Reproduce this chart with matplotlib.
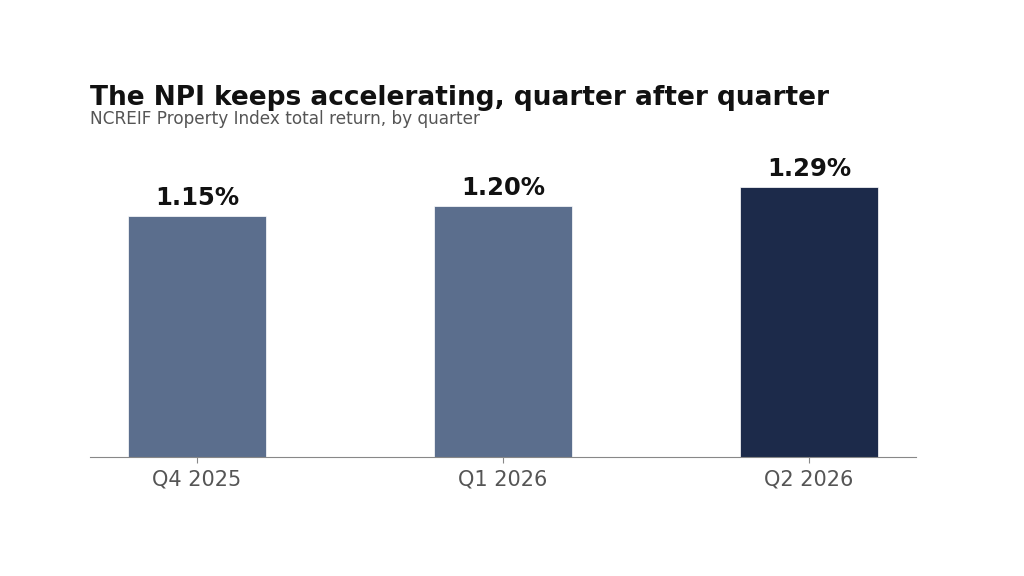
import matplotlib
matplotlib.use("Agg")
import matplotlib.pyplot as plt

plt.rcParams["font.family"] = ["DejaVu Sans"]

# data
quarters = ["Q4 2025", "Q1 2026", "Q2 2026"]
returns = [1.15, 1.20, 1.29]
bar_colors = ["#5b6e8d", "#5b6e8d", "#1c2a4a"]

fig = plt.figure(figsize=(10.24, 5.76), dpi=100)

# axes placed to match the reference pixel layout
ax_left, ax_bottom, ax_right = 90, 457, 916
ax_top = 150
ax = fig.add_axes([ax_left / 1024, (576 - ax_bottom) / 576,
                   (ax_right - ax_left) / 1024, (ax_bottom - ax_top) / 576])

x = range(len(quarters))
bars = ax.bar(x, returns, width=0.45, color=bar_colors, edgecolor="white", linewidth=0.5)

# value labels above each bar
for xi, v in zip(x, returns):
    ax.text(xi, v + 0.028, f"{v:.2f}%", ha="center", va="bottom",
            fontsize=17.5, fontweight="bold", color="#111111")

ax.set_xlim(-0.35, 2.35)
ax.set_ylim(0, (ax_bottom - ax_top) / 209.5)
ax.set_xticks(list(x))
ax.set_xticklabels(quarters, fontsize=15, color="#555555")
ax.set_yticks([])
ax.tick_params(axis="x", length=4, color="#888888", pad=5)

for side in ["top", "right", "left"]:
    ax.spines[side].set_visible(False)
ax.spines["bottom"].set_color("#888888")

# title and subtitle
fig.text(90 / 1024, 1 - 105 / 576, "The NPI keeps accelerating, quarter after quarter",
         fontsize=19, fontweight="bold", color="#111111", ha="left", va="baseline")
fig.text(90 / 1024, 1 - 124 / 576, "NCREIF Property Index total return, by quarter",
         fontsize=12.2, color="#555555", ha="left", va="baseline")

fig.savefig("out.png", dpi=100)
